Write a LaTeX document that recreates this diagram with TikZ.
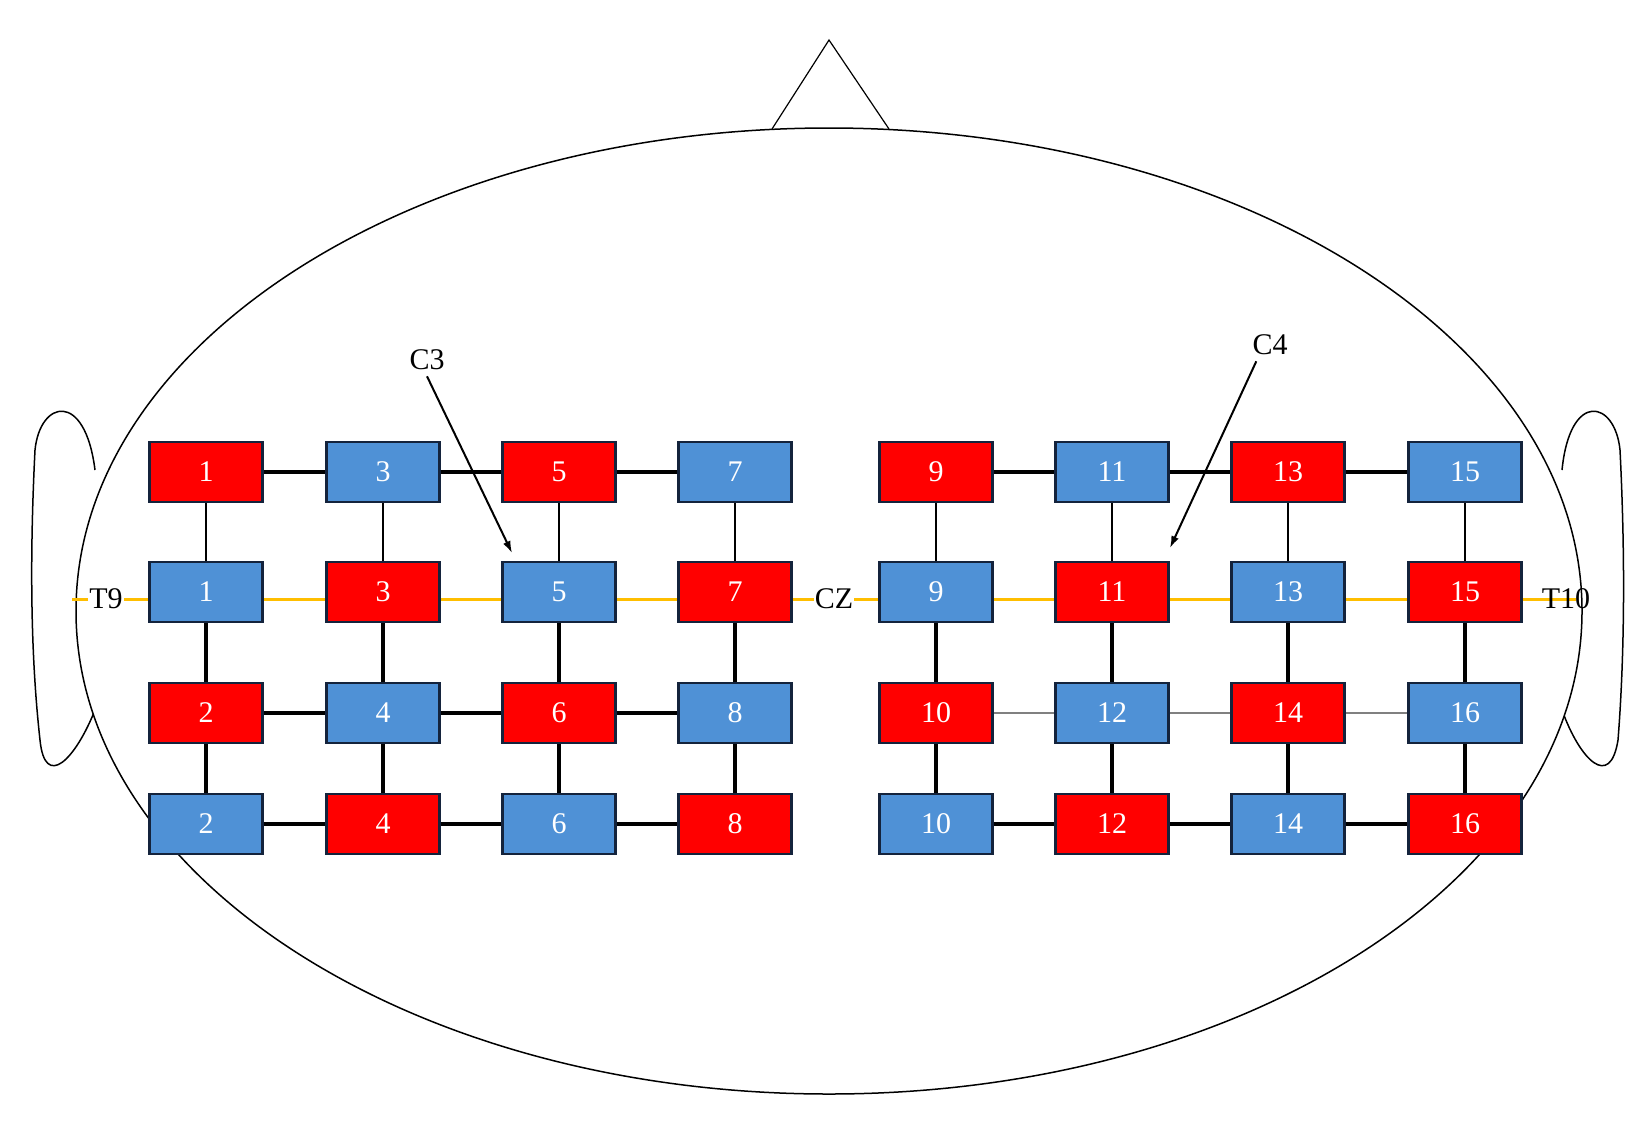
\documentclass[tikz,border=0pt]{standalone}
\usepackage{fontspec}
\setmainfont{Liberation Serif}
\usetikzlibrary{arrows.meta}
\begin{document}
\begin{tikzpicture}[x=1pt,y=-1pt,
 box/.style={draw={rgb,255:red,20;green,35;blue,60},line width=2.5pt,minimum width=113pt,minimum height=60pt,inner sep=0pt,text=white,font=\fontsize{30}{30}\selectfont},
 R/.style={box,fill=red},B/.style={box,fill={rgb,255:red,79;green,145;blue,214}},
 thick/.style={line width=3.5pt},thin/.style={line width=1.6pt},
 lab/.style={font=\fontsize{30}{30}\selectfont,inner sep=1pt}]
\useasboundingbox (0,0) rectangle (1651,1120);
\definecolor{yel}{RGB}{255,190,0}
% ears
\draw[line width=1.5pt] (95,470) .. controls (85,390) and (40,400) .. (35,450) .. controls (30,550) and (30,650) .. (40,740) .. controls (45,790) and (75,760) .. (95,710);
\draw[line width=1.5pt] (1562,470) .. controls (1570,390) and (1615,400) .. (1620,450) .. controls (1625,550) and (1625,650) .. (1618,740) .. controls (1610,790) and (1580,760) .. (1562,710);
\draw[fill=white,draw=none] (829,611) ellipse (753 and 483);
\draw[line width=1.5pt] (829,611) ellipse (753 and 483);
\draw[line width=1.2pt] (772,129) -- (829,40) -- (889,129);
\coordinate (yl) at (72,599); \coordinate (yr) at (1576,599);
\draw[yel,line width=3pt] (yl) -- (yr);
\node[lab,fill=white] (t9) at (106,599) {T9};
\node[lab,fill=white] (cz) at (834,599) {CZ};
\node[lab] (t10) at (1566,599) {T10};
% nodes
\foreach \x/\n/\a/\b/\c/\d [count=\i] in {206/1/R/B/R/B,383/3/B/R/B/R,559/5/R/B/R/B,735/7/B/R/B/R,936/9/R/B/R/B,1112/11/B/R/B/R,1288/13/R/B/R/B,1465/15/B/R/B/R}{
 \pgfmathtruncatemacro{\m}{\n+1}
 \node[\a] (a\i) at (\x,472) {\n};
 \node[\b] (b\i) at (\x,592) {\n};
 \node[\c] (c\i) at (\x,713) {\m};
 \node[\d] (d\i) at (\x,824) {\m};
}
\foreach \i in {1,...,8}{
 \draw[thin] (a\i) -- (b\i);
 \draw[thick] (b\i) -- (c\i);
 \draw[thick] (c\i) -- (d\i);
}
\foreach \i/\j in {1/2,2/3,3/4,5/6,6/7,7/8}{
 \draw[thick] (a\i) -- (a\j);
 \draw[thick] (d\i) -- (d\j);
}
\foreach \i/\j in {1/2,2/3,3/4}{\draw[thick] (c\i) -- (c\j);}
\foreach \i/\j in {5/6,6/7,7/8}{\draw[thin,black!50] (c\i) -- (c\j);}
\node[lab] (c3) at (427,360) {C3};
\node[lab] (c4) at (1270,345) {C4};
\coordinate (c3e) at (512,553); \coordinate (c4e) at (1170,548);
\draw[line width=2pt,-{Latex[length=12pt,width=8pt]}] (c3.south) ++(0,5) -- (c3e);
\draw[line width=2pt,-{Latex[length=12pt,width=8pt]}] (c4.south west) ++(5,5) -- (c4e);
\end{tikzpicture}
\end{document}
